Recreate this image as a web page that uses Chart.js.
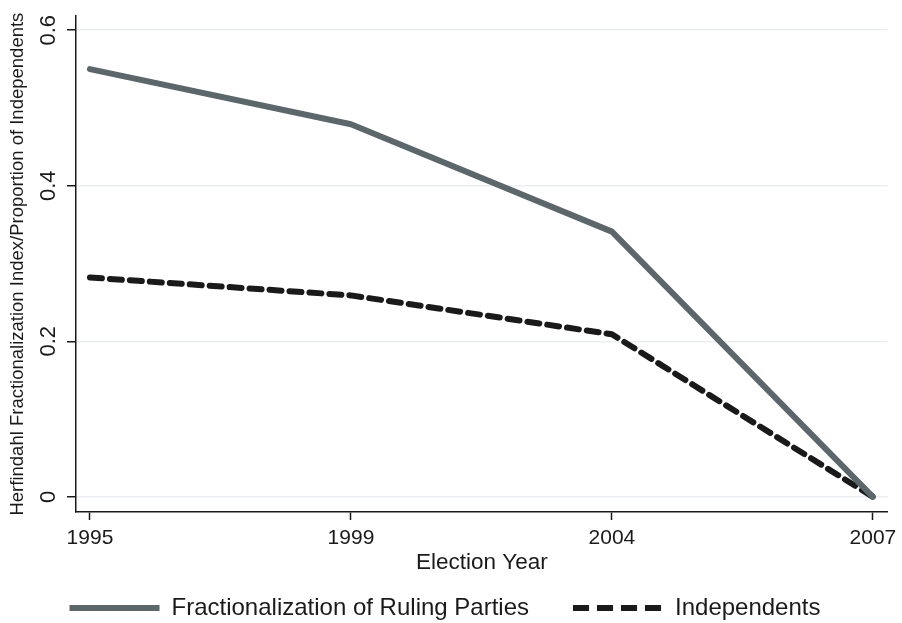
<!DOCTYPE html>
<html>
<head>
<meta charset="utf-8">
<script src="https://cdn.jsdelivr.net/npm/chart.js@4.4.1/dist/chart.umd.min.js"></script>
<style>
    html, body { margin: 0; padding: 0; background: #ffffff; }
    #wrap { width: 902px; height: 623px; }
</style>
</head>
<body>
<div id="wrap"><canvas id="chart" width="902" height="623"></canvas></div>
<script>
// values
const years = ['1995', '1999', '2004', '2007'];
const rulingParties = [0.550, 0.479, 0.341, 0.0];
const independents = [0.282, 0.259, 0.209, 0.0];
const yTicks = [0, 0.2, 0.4, 0.6];

const FONT = "'Liberation Sans', Arial, Helvetica, sans-serif";
const INK = '#1a1a1a';

function toPoints(values) {
    return values.map((v, i) => ({ x: i, y: v }));
}

const ctx = document.getElementById('chart').getContext('2d');
new Chart(ctx, {
    type: 'line',
    data: {
        datasets: [{
            label: 'Fractionalization of Ruling Parties',
            data: toPoints(rulingParties),
            borderColor: '#5b676b',
            backgroundColor: '#5b676b',
            borderWidth: 6,
            borderCapStyle: 'round',
            borderJoinStyle: 'round',
            pointRadius: 0,
            tension: 0
        }, {
            label: 'Independents',
            data: toPoints(independents),
            borderColor: INK,
            backgroundColor: INK,
            borderWidth: 6,
            borderDash: [12, 8],
            borderCapStyle: 'round',
            borderJoinStyle: 'round',
            pointRadius: 0,
            tension: 0
        }]
    },
    options: {
        responsive: false,
        animation: false,
        // negative bottom padding pushes the legend row down to where Stata puts it
        layout: { padding: { top: 15, right: 12, left: 0, bottom: -7 } },
        plugins: {
            tooltip: { enabled: false },
            legend: {
                position: 'bottom',
                labels: {
                    usePointStyle: true,
                    pointStyle: 'line',
                    pointStyleWidth: 90,
                    padding: 44,
                    color: INK,
                    font: { family: FONT, size: 24 },
                    generateLabels: function (chart) {
                        const items = Chart.defaults.plugins.legend.labels.generateLabels(chart);
                        items.forEach(item => {
                            item.pointStyle = 'line';
                            item.lineWidth = 6;
                            item.lineCap = 'butt';
                            if (item.datasetIndex === 1) item.lineDash = [16, 8];
                        });
                        return items;
                    }
                }
            }
        },
        scales: {
            x: {
                type: 'linear',
                min: -0.0535,
                max: 3.057,
                afterBuildTicks: function (scale) {
                    scale.ticks = years.map((y, i) => ({ value: i }));
                },
                afterFit: function (scale) {
                    scale.height = 40; // tick labels are clipped to this box, title is not
                },
                ticks: {
                    color: INK,
                    font: { family: FONT, size: 21 },
                    padding: 5.5,
                    maxRotation: 0,
                    callback: function (value) { return years[value]; }
                },
                grid: {
                    drawOnChartArea: false,
                    drawTicks: true,
                    tickLength: 8,
                    tickColor: INK,
                    tickWidth: 1.5
                },
                border: { display: true, color: INK, width: 1.5 },
                title: {
                    display: true,
                    text: 'Election Year',
                    color: INK,
                    font: { family: FONT, size: 22.5 },
                    padding: { top: 0, bottom: -24.5 }
                }
            },
            y: {
                min: -0.0195,
                max: 0.618,
                afterBuildTicks: function (scale) {
                    scale.ticks = yTicks.map(v => ({ value: v }));
                },
                afterFit: function (scale) {
                    scale.width = 76;
                },
                ticks: {
                    color: INK,
                    font: { family: FONT, size: 22 },
                    padding: 3,
                    minRotation: 90,
                    maxRotation: 90,
                    crossAlign: 'center',
                    callback: function (value) { return value === 0 ? '0' : value.toFixed(1); }
                },
                grid: {
                    color: '#e9eef1',
                    lineWidth: 1.5,
                    drawTicks: true,
                    tickLength: 9,
                    tickColor: INK,
                    tickWidth: 1.5
                },
                border: { display: true, color: INK, width: 1.5 },
                title: {
                    display: true,
                    text: 'Herfindahl Fractionalization Index/Proportion of Independents',
                    color: INK,
                    font: { family: FONT, size: 18.5 },
                    padding: { top: 7, bottom: 0 }
                }
            }
        }
    }
});
</script>
</body>
</html>
